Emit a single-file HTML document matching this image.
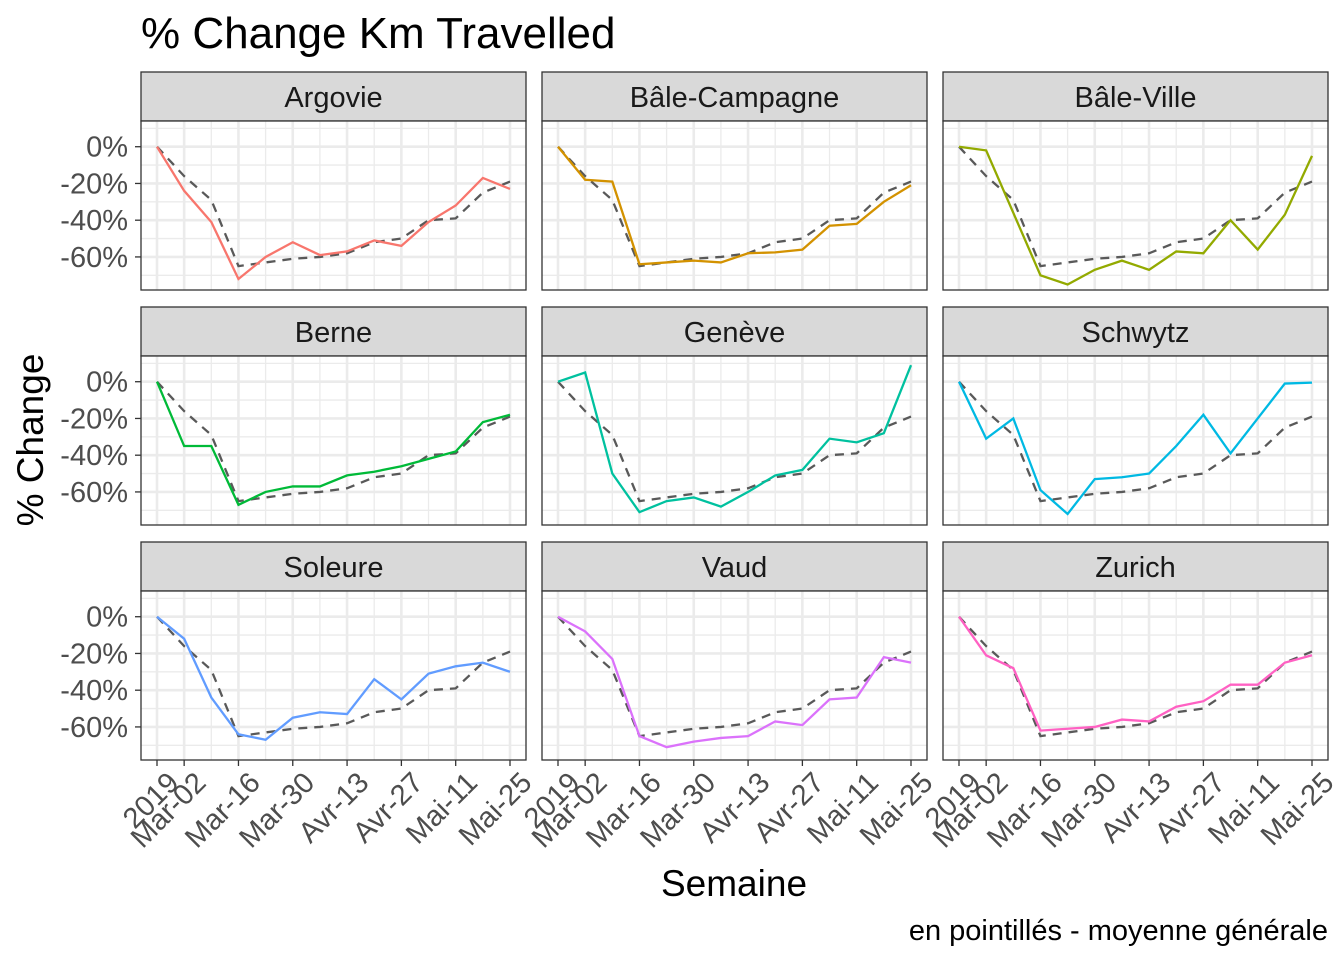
<!DOCTYPE html>
<html><head><meta charset="utf-8"><style>
body{margin:0;background:#fff;}
svg{display:block;font-family:"Liberation Sans",Arial,sans-serif;}
</style></head><body>
<svg id="chart" width="1344" height="960" viewBox="0 0 1344 960">
<text x="141" y="48" font-size="44" fill="#000">% Change Km Travelled</text>
<text x="734" y="896" font-size="37" text-anchor="middle" fill="#000">Semaine</text>
<text transform="translate(43,440) rotate(-90)" font-size="37" text-anchor="middle" fill="#000">% Change</text>
<text x="1328" y="940" font-size="29" text-anchor="end" fill="#000">en pointillés - moyenne générale</text>
<g id="panels"></g>
</svg>
<script>
const categories = ["2019","Mar-02","Mar-09","Mar-16","Mar-23","Mar-30","Avr-06","Avr-13","Avr-20","Avr-27","Mai-04","Mai-11","Mai-18","Mai-25"];
const tickLabels = ["2019","Mar-02","Mar-16","Mar-30","Avr-13","Avr-27","Mai-11","Mai-25"];
const yTicks = [0,-20,-40,-60];
const yMinor = [10,-10,-30,-50,-70];
const cantons = ["Argovie","Bâle-Campagne","Bâle-Ville","Berne","Genève","Schwytz","Soleure","Vaud","Zurich"];
const colors = ["#F8766D","#D39200","#93AA00","#00BA38","#00C19F","#00B9E3","#619CFF","#DB72FB","#FF61C3"];
const meanSeries = [0,-16,-29,-65,-63,-61,-60,-58,-52,-50,-40,-39,-25,-19];
const argovie = [0,-24,-41,-72,-60,-52,-59,-57,-51,-54,-41,-32,-17,-23];
const baleCampagne = [0,-18,-19,-64,-63,-62,-63,-58,-57.5,-56,-43,-42,-30,-21];
const baleVille = [0,-2,-36,-70,-75,-67,-62,-67,-57,-58,-40,-56,-37,-5];
const berne = [0,-35,-35,-67,-60,-57,-57,-51,-49,-46,-42,-38,-22,-18];
const geneve = [0,5,-50,-71,-65,-63,-68,-60,-51,-48,-31,-33,-28,9];
const schwytz = [0,-31,-20,-59,-72,-53,-52,-50,-35,-18,-39,-20,-1,-0.5];
const soleure = [0,-12,-44,-64,-67,-55,-52,-53,-34,-45,-31,-27,-25,-30];
const vaud = [0,-8,-23,-65,-71,-68,-66,-65,-57,-59,-45,-44,-22,-25];
const zurich = [0,-21,-28,-62,-61,-60,-56,-57,-49,-46,-37,-37,-25,-21];
const seriesList = [argovie,baleCampagne,baleVille,berne,geneve,schwytz,soleure,vaud,zurich];

const NS="http://www.w3.org/2000/svg";
const root=document.getElementById('panels');
function mk(tag,attrs,parent){const e=document.createElementNS(NS,tag);for(const k in attrs)e.setAttribute(k,attrs[k]);(parent||root).appendChild(e);return e;}
const colX=[141,542,943], panelW=385;
const rowY=[72,307,542], stripH=49, plotH=169;
const yMax=14, yMin=-78;
cantons.forEach((name,p)=>{
  const c=p%3, r=Math.floor(p/3);
  const x0=colX[c], sy=rowY[r], py=sy+stripH;
  const g=mk('g',{});
  
  
  const xs=i=>x0+16+i*(panelW-32)/(categories.length-1);
  const ys=v=>py+(yMax-v)/(yMax-yMin)*plotH;
  const strip=mk('rect',{x:x0,y:sy,width:panelW,height:stripH,fill:'#D9D9D9',stroke:'#333',"stroke-width":1.3},g);
  
  
  const st=mk('text',{x:x0+panelW/2,y:sy+35,"font-size":29,"text-anchor":"middle",fill:'#1a1a1a'},g);
  st.textContent=name;
  
  
  mk('rect',{x:x0,y:py,width:panelW,height:plotH,fill:'#fff'},g);
  yMinor.forEach(v=>mk('line',{x1:x0,x2:x0+panelW,y1:ys(v),y2:ys(v),stroke:'#EBEBEB',"stroke-width":1.3},g));
  yTicks.forEach(v=>mk('line',{x1:x0,x2:x0+panelW,y1:ys(v),y2:ys(v),stroke:'#EBEBEB',"stroke-width":2.6},g));
  categories.forEach((cat,i)=>{const major=tickLabels.includes(cat);
    mk('line',{x1:xs(i),x2:xs(i),y1:py,y2:py+plotH,stroke:'#EBEBEB',"stroke-width":major?2.6:1.3},g);});
  let d=meanSeries.map((v,i)=>(i?'L':'M')+xs(i)+','+ys(v)).join('');
  const ml=mk('path',{d:d,fill:'none',stroke:'#595959',"stroke-width":2.3,"stroke-dasharray":"9,7"},g);
  
  
  d=seriesList[p].map((v,i)=>(i?'L':'M')+xs(i)+','+ys(v)).join('');
  const sl=mk('path',{d:d,fill:'none',stroke:colors[p],"stroke-width":2.3},g);
  
  
  mk('rect',{x:x0,y:py,width:panelW,height:plotH,fill:'none',stroke:'#333',"stroke-width":1.3},g);
  if(c===0){yTicks.forEach(v=>{
    mk('line',{x1:x0-6,x2:x0,y1:ys(v),y2:ys(v),stroke:'#333',"stroke-width":1.3},g);
    const t=mk('text',{x:x0-13,y:ys(v)+10,"font-size":29,"text-anchor":"end",fill:'#4D4D4D'},g);
    t.textContent=v+'%';
    
    });}
  if(r===2){categories.forEach((cat,i)=>{if(!tickLabels.includes(cat))return;
    mk('line',{x1:xs(i),x2:xs(i),y1:py+plotH,y2:py+plotH+6,stroke:'#333',"stroke-width":1.3},g);
    const tx=xs(i)+9, ty=py+plotH+10;
    const t=mk('text',{transform:`translate(${tx},${ty}) rotate(-45)`,"font-size":29,"text-anchor":"end",fill:'#4D4D4D',dy:'0.7em'},g);
    t.textContent=cat;
    
    });}
});
</script>
</body></html>
